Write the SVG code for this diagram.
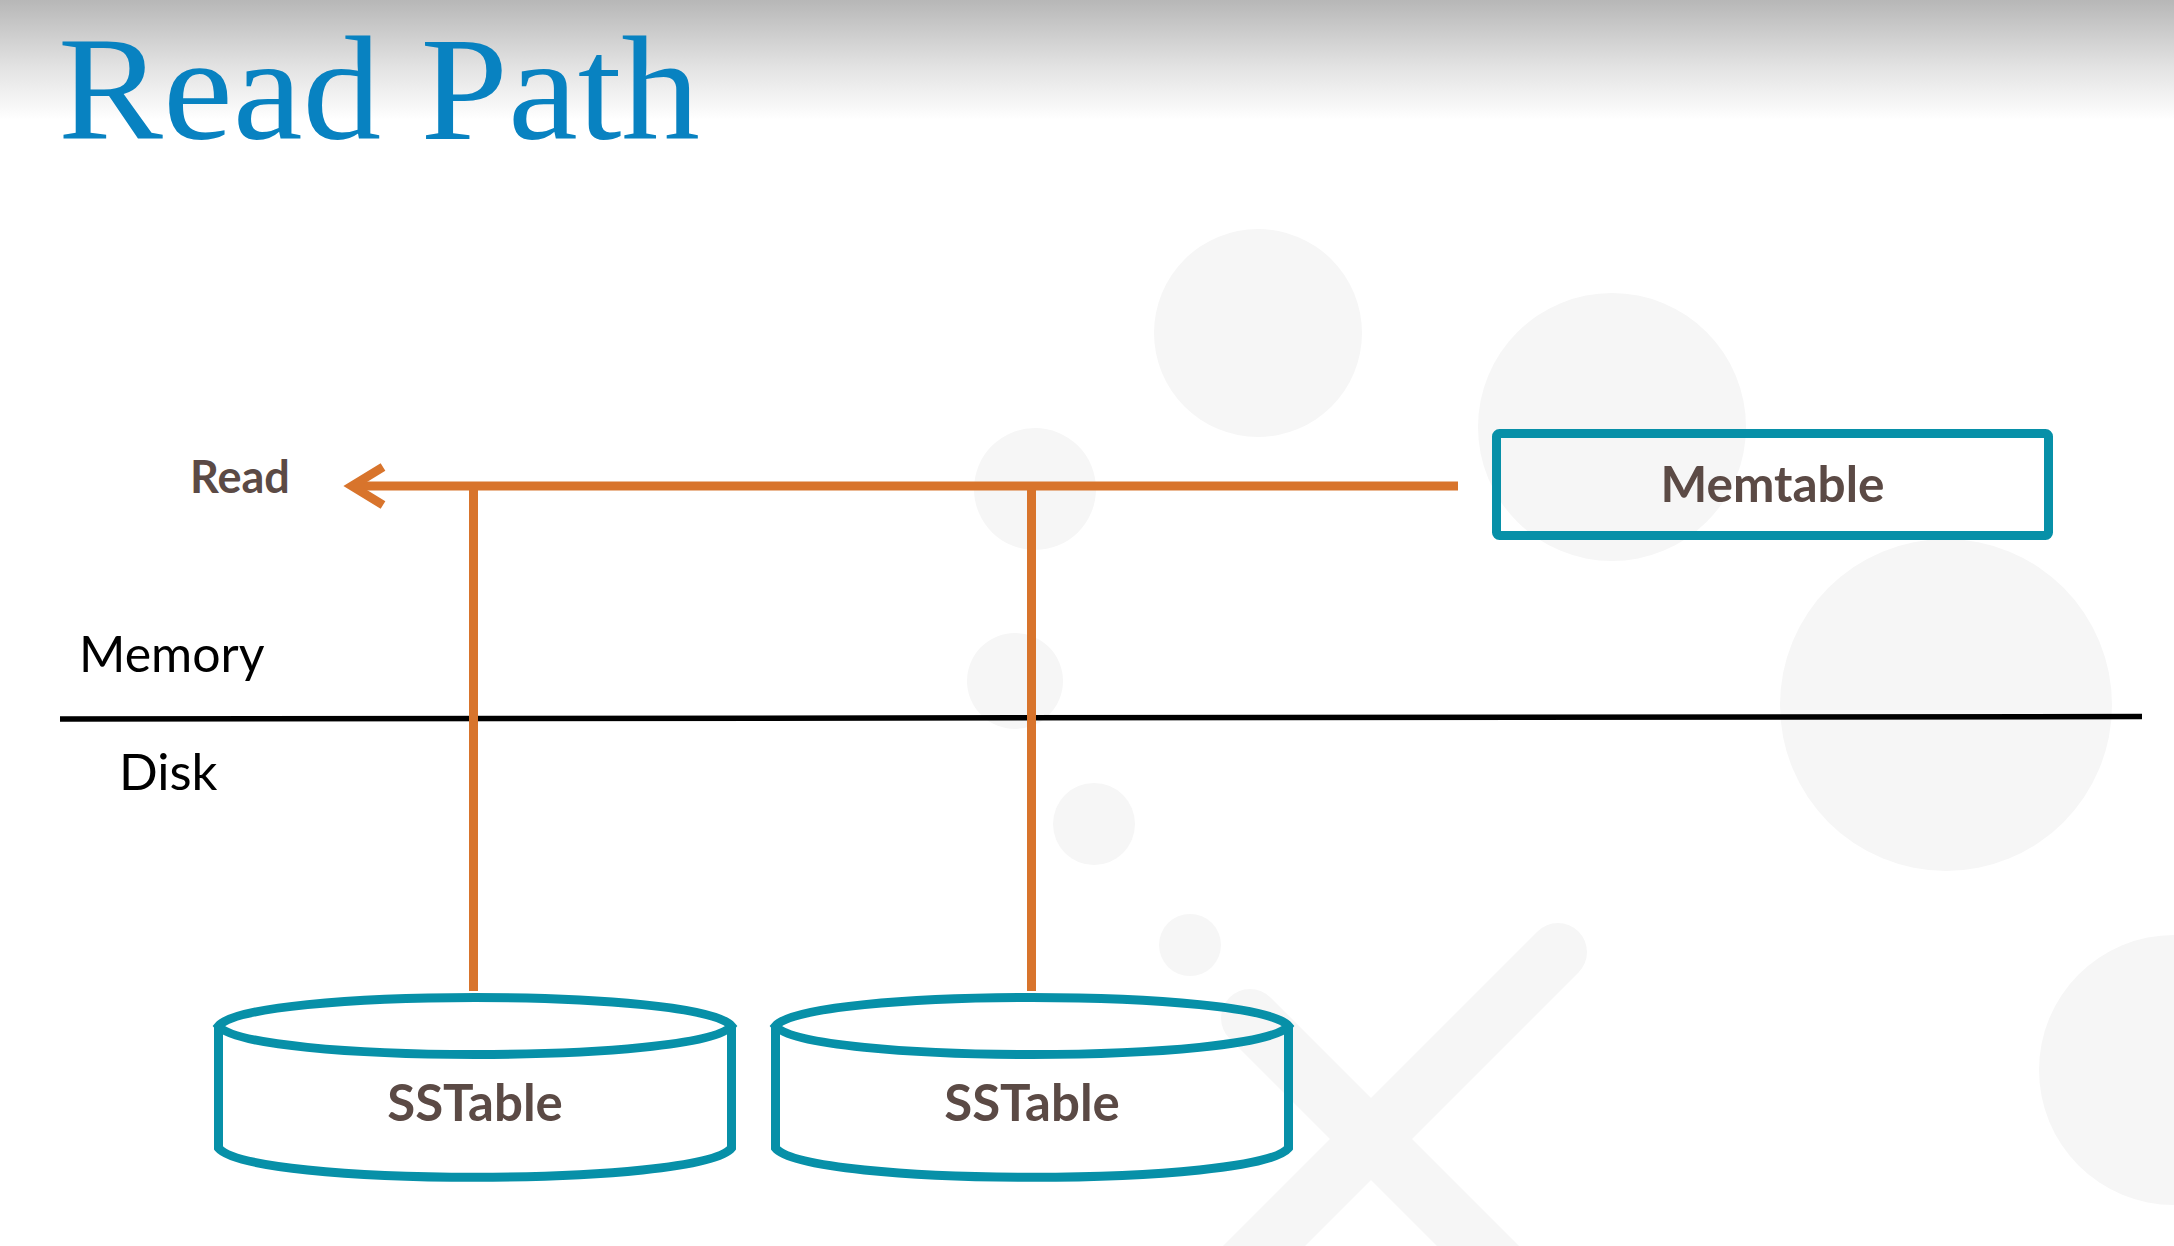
<svg xmlns="http://www.w3.org/2000/svg" width="2174" height="1246" viewBox="0 0 2174 1246">
<defs>
<linearGradient id="topfade" x1="0" y1="0" x2="0" y2="1">
<stop offset="0" stop-color="#b7b7b7"/>
<stop offset="0.55" stop-color="#e2e2e2"/>
<stop offset="1" stop-color="#ffffff"/>
</linearGradient>
<marker id="chev" markerUnits="userSpaceOnUse" orient="auto" refX="0" refY="0" markerWidth="60" markerHeight="60" overflow="visible">
<path d="M -31,-19 L 0,0 L -31,19" fill="none" stroke="#d8742c" stroke-width="9"/>
</marker>
</defs>
<style>
.deco{fill:#f6f6f6}
.flow{stroke:#d8742c;stroke-width:9;fill:none}
.teal{stroke:#0790a8;stroke-width:9;fill:none}
.lbl{font-family:Lato,"Open Sans","Liberation Sans",sans-serif;font-weight:700;fill:#5b4a45}
.zone{font-family:Lato,"Open Sans","Liberation Sans",sans-serif;font-weight:400;fill:#000}
</style>
<rect x="0" y="0" width="2174" height="1246" fill="#ffffff"/>
<rect x="0" y="0" width="2174" height="120" fill="url(#topfade)"/>
<g id="background">
<circle class="deco" cx="1258" cy="333" r="104"/>
<circle class="deco" cx="1612" cy="427" r="134"/>
<circle class="deco" cx="1035" cy="489" r="61"/>
<circle class="deco" cx="1015" cy="681" r="48"/>
<circle class="deco" cx="1946" cy="705" r="166"/>
<circle class="deco" cx="1094" cy="824" r="41"/>
<circle class="deco" cx="1190" cy="945" r="31"/>
<circle class="deco" cx="2174" cy="1070" r="135"/>
<line x1="1558" y1="952" x2="1220" y2="1290" stroke="#f6f6f6" stroke-width="58" stroke-linecap="round"/>
<line x1="1250" y1="1018" x2="1522" y2="1290" stroke="#f6f6f6" stroke-width="58" stroke-linecap="round"/>
</g>
<text x="58" y="139" font-family="'Liberation Serif','DejaVu Serif',serif" font-size="148" fill="#0882c1" textLength="642" lengthAdjust="spacingAndGlyphs">Read Path</text>
<g id="divider">
<line x1="60" y1="719" x2="2142" y2="716.5" stroke="#000" stroke-width="5.5"/>
<text class="zone" x="79" y="672" font-size="50">Memory</text>
<text class="zone" x="119" y="790" font-size="51">Disk</text>
</g>
<g id="connectors">
<line class="flow" x1="1458" y1="486" x2="352" y2="486" marker-end="url(#chev)"/>
<line class="flow" x1="473.5" y1="486" x2="473.5" y2="991"/>
<line class="flow" x1="1031.5" y1="486" x2="1031.5" y2="991"/>
</g>
<text id="read-label" class="lbl" x="190" y="493" font-size="45">Read</text>
<g id="memtable">
<rect class="teal" x="1496.5" y="433.5" width="552" height="102" rx="3"/>
<text class="lbl" x="1772.5" y="502" font-size="49.5" text-anchor="middle">Memtable</text>
</g>
<g id="sstable1">
<path class="teal" d="M218.5,1026 C250,988 700,988 731.5,1026 C700,1064 250,1064 218.5,1026 Z"/>
<path class="teal" d="M218.5,1026 L218.5,1148 C250,1187 700,1187 731.5,1148 L731.5,1026"/>
<text class="lbl" x="475" y="1121" font-size="51" text-anchor="middle">SSTable</text>
</g>
<g id="sstable2">
<path class="teal" d="M775.5,1026 C807,988 1257,988 1288.5,1026 C1257,1064 807,1064 775.5,1026 Z"/>
<path class="teal" d="M775.5,1026 L775.5,1148 C807,1187 1257,1187 1288.5,1148 L1288.5,1026"/>
<text class="lbl" x="1032" y="1121" font-size="51" text-anchor="middle">SSTable</text>
</g>
</svg>
